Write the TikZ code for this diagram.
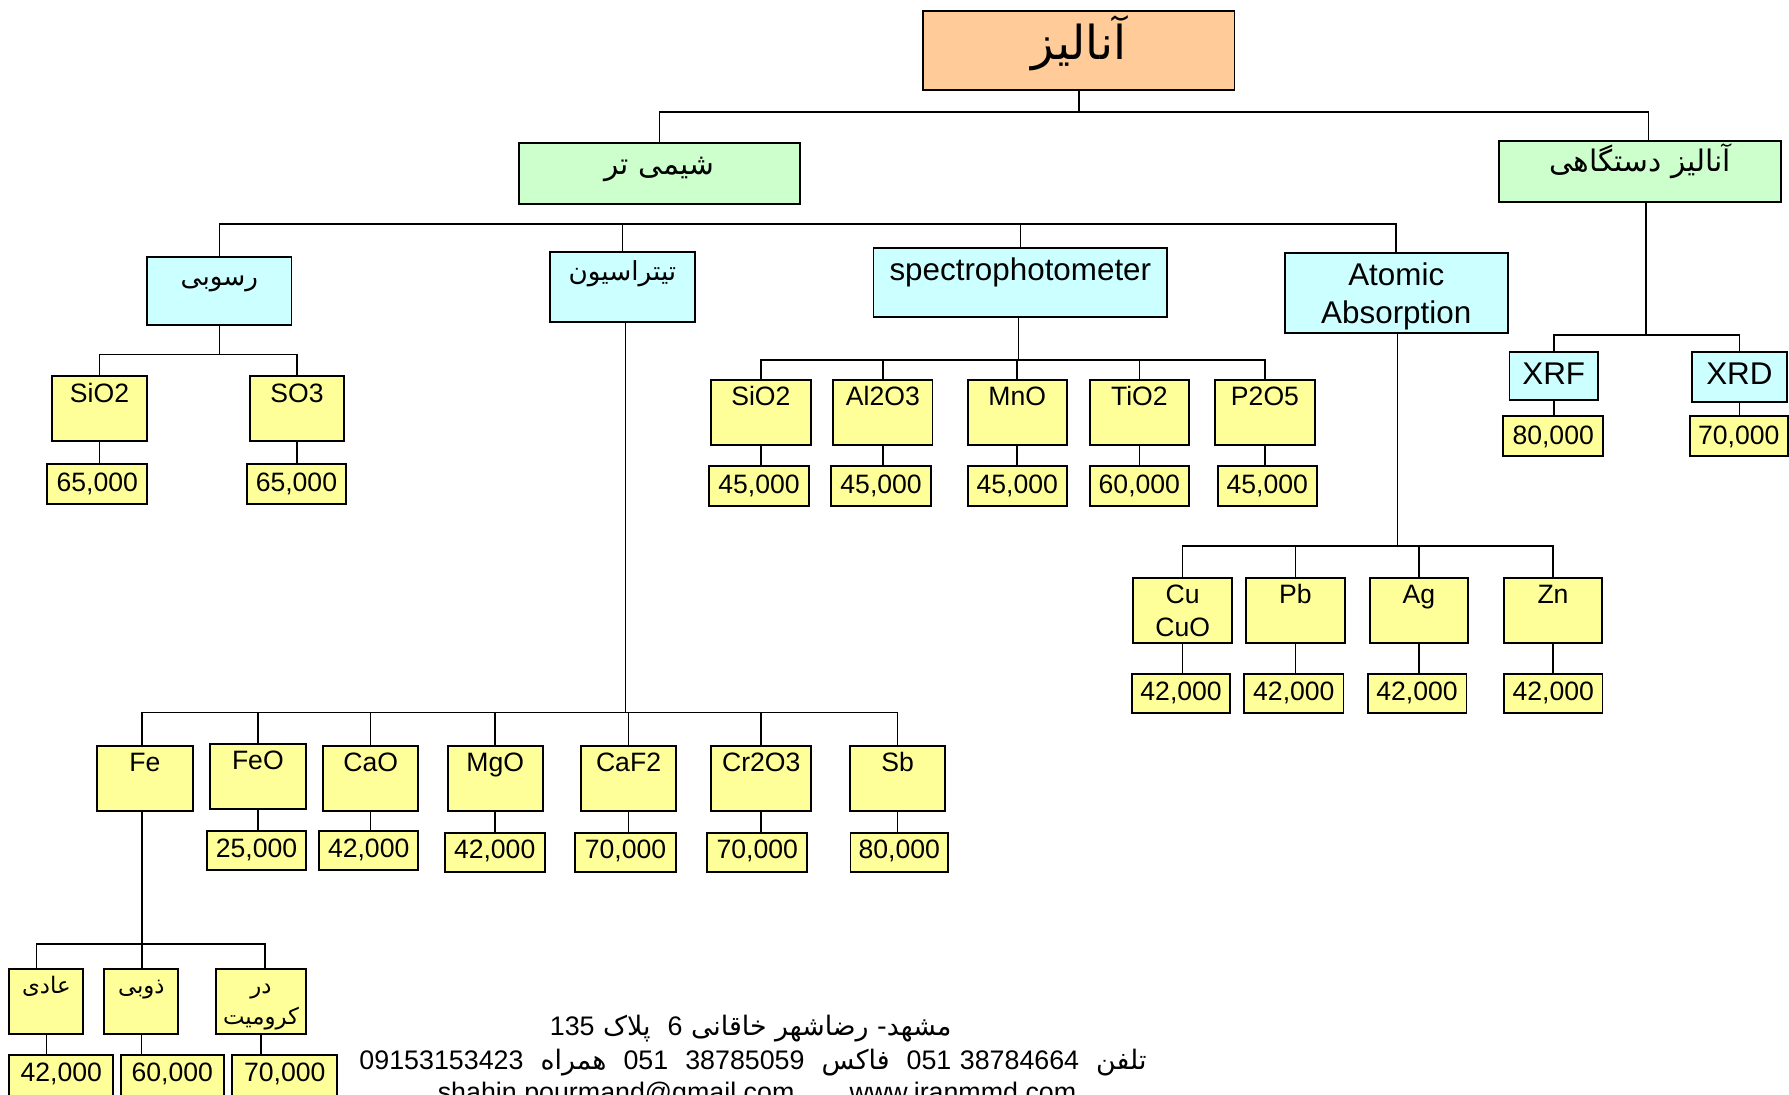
\documentclass[tikz,border=0pt]{standalone}
\usepackage{fontspec}
\setmainfont{Liberation Sans}
\newfontfamily\fa[Script=Arabic]{DejaVu Sans}
\TeXXeTstate=1
\usetikzlibrary{calc}
\definecolor{peachc}{HTML}{FFCC99}
\definecolor{greenc}{HTML}{CCFFCC}
\definecolor{cyanc}{HTML}{CCFFFF}
\definecolor{yellowc}{HTML}{FFFF99}
\newcommand{\bx}[8]{%
  \pgfmathsetmacro\bxw{#5-#3}%
  \pgfmathsetmacro\bxh{#6-#4}%
  \pgfmathsetmacro\bxd{#6-#4-#7}%
  \node[#1, anchor=north west, minimum width=\bxw pt, minimum height=\bxh pt, text height=#7pt, text depth=\bxd pt] (#2) at (#3,#4) {#8};}
\newcommand{\RR}[1]{\beginR #1\endR}
\tikzset{
 bb/.style={draw=black, line width=1.7pt, inner sep=0pt, outer sep=0pt, align=center},
 pbox/.style={bb, fill=peachc, font=\fa\fontsize{41}{44}\selectfont},
 gbox/.style={bb, fill=greenc, font=\fa\fontsize{26}{30}\selectfont},
 cbox/.style={bb, fill=cyanc, font=\fontsize{27.5}{34}\selectfont},
 cfbox/.style={bb, fill=cyanc, font=\fa\fontsize{23}{28}\selectfont},
 ybox/.style={bb, fill=yellowc, font=\fontsize{23.3}{29.2}\selectfont},
 yfbox/.style={bb, fill=yellowc, font=\fa\fontsize{20}{27}\selectfont},
 conn/.style={line width=1.4pt},
 foot/.style={font=\fa\fontsize{23.5}{28}\selectfont, inner sep=0pt, anchor=base},
 footl/.style={font=\fontsize{23.5}{28}\selectfont, inner sep=0pt, anchor=base},
}
\begin{document}
\begin{tikzpicture}[x=1pt,y=-1pt]
\useasboundingbox[fill=white] (0,0) rectangle (1568,959);
% level 0/1
\bx{pbox}{title}{809}{10}{1082}{79}{42}{\RR{آنالیز}}
\bx{gbox}{shimi}{455}{125.6}{701}{178.8}{27}{\RR{شیمی تر}}
\bx{gbox}{dast}{1314}{123.6}{1561}{177}{27}{\RR{آنالیز دستگاهی}}
% level 2
\bx{cfbox}{rosubi}{129}{225}{255.5}{284.8}{25}{\RR{رسوبی}}
\bx{cfbox}{titr}{482}{221}{609}{282}{25}{\RR{تیتراسیون}}
\bx{cbox}{spec}{765.6}{217.6}{1023}{277.5}{28}{spectrophotometer}
\bx{cbox}{aa}{1126}{221.5}{1321.5}{292}{62.3}{Atomic\\Absorption}
\bx{cbox}{xrf}{1323}{308.6}{1400.6}{350.6}{28.8}{XRF}
\bx{cbox}{xrd}{1483}{308.6}{1566}{352}{28.8}{XRD}
\bx{ybox}{vxrf}{1317.6}{365}{1405}{400}{25}{80,000}
\bx{ybox}{vxrd}{1481}{365}{1567}{400}{25}{70,000}
% rosubi children
\bx{ybox}{rs1}{45.4}{329.5}{129}{386.2}{23.5}{SiO2}
\bx{ybox}{rs2}{219}{329.5}{301.6}{386.2}{23.5}{SO3}
\bx{ybox}{rv1}{41.5}{407}{129}{441.7}{24}{65,000}
\bx{ybox}{rv2}{216.4}{407}{303.2}{441.7}{24}{65,000}
% spectro children
\bx{ybox}{sp1}{622.9}{333}{710.8}{390}{22.8}{SiO2}
\bx{ybox}{sp2}{730.4}{333}{817.3}{390}{22.8}{Al2O3}
\bx{ybox}{sp3}{848.2}{333}{935}{390}{22.8}{MnO}
\bx{ybox}{sp4}{955.3}{333}{1041.9}{390}{22.8}{TiO2}
\bx{ybox}{sp5}{1065.1}{333}{1152.3}{390}{22.8}{P2O5}
\bx{ybox}{spv1}{621.4}{408.4}{709}{443.2}{24}{45,000}
\bx{ybox}{spv2}{728.3}{408.4}{816.2}{443.2}{24}{45,000}
\bx{ybox}{spv3}{848.2}{408.4}{935}{443.2}{24}{45,000}
\bx{ybox}{spv4}{955.3}{408.4}{1041.9}{443.2}{24}{60,000}
\bx{ybox}{spv5}{1067.3}{408.4}{1154.2}{443.2}{24}{45,000}
% AA children
\bx{ybox}{aa1}{993.4}{506.3}{1079.7}{563.3}{51.7}{Cu\\CuO}
\bx{ybox}{aa2}{1092.3}{506.3}{1178.6}{563.3}{22.5}{Pb}
\bx{ybox}{aa3}{1200.4}{506.3}{1286.8}{563.3}{22.5}{Ag}
\bx{ybox}{aa4}{1318.3}{506.3}{1404}{563.3}{22.5}{Zn}
\bx{ybox}{aav1}{992}{590.7}{1078.4}{624.6}{23}{42,000}
\bx{ybox}{aav2}{1090.5}{590.7}{1177.5}{624.6}{23}{42,000}
\bx{ybox}{aav3}{1198.7}{590.7}{1285.3}{624.6}{23}{42,000}
\bx{ybox}{aav4}{1318.3}{590.7}{1404.5}{624.6}{23}{42,000}
% titration children
\bx{ybox}{t1}{84.8}{653.8}{169}{710.8}{22.5}{Fe}
\bx{ybox}{t2}{184.2}{651.8}{267.8}{709}{22.5}{FeO}
\bx{ybox}{t3}{283}{653.8}{366.7}{710.8}{22.5}{CaO}
\bx{ybox}{t4}{392.3}{653.8}{475.9}{710.8}{22.5}{MgO}
\bx{ybox}{t5}{509.3}{653.8}{592.5}{710.8}{22.5}{CaF2}
\bx{ybox}{t6}{623.4}{653.8}{711}{710.8}{22.5}{Cr2O3}
\bx{ybox}{t7}{744.9}{653.8}{828.5}{710.8}{22.5}{Sb}
\bx{ybox}{tv2}{181.8}{728.3}{267.8}{762.5}{23}{25,000}
\bx{ybox}{tv3}{279.6}{728.3}{366.7}{762.5}{23}{42,000}
\bx{ybox}{tv4}{389.8}{729.8}{477.3}{764.5}{23}{42,000}
\bx{ybox}{tv5}{504}{729.8}{592.5}{764.5}{23}{70,000}
\bx{ybox}{tv6}{620}{729.8}{707.5}{764.5}{23}{70,000}
\bx{ybox}{tv7}{745.4}{729.8}{831}{764.5}{23}{80,000}
% Fe children
\bx{yfbox}{f1}{8.2}{849.6}{73}{906.5}{21}{\RR{عادی}}
\bx{yfbox}{f2}{91.4}{849.6}{156.3}{906.5}{21}{\RR{ذوبی}}
\bx{yfbox}{f3}{189.3}{849.6}{268.2}{906.5}{48}{\RR{در}\\\RR{کرومیت}}
\bx{ybox}{fv1}{8.2}{924.6}{99.3}{968}{23.4}{42,000}
\bx{ybox}{fv2}{105.8}{924.6}{196.3}{968}{23.4}{60,000}
\bx{ybox}{fv3}{203.6}{924.6}{295.6}{968}{23.4}{70,000}
% connectors level 0-1
\coordinate (b1L) at (578,98);
\coordinate (b1R) at (1445,98);
\draw[conn] (title.south) -- (title.south |- b1L);
\draw[conn] (b1L |- shimi.north) -- (b1L) -- (b1R) -- (b1R |- dast.north);
% level 2 bus
\coordinate (b2) at (0,196.3);
\draw[conn] (rosubi.north) -- (rosubi.north |- b2) -- (aa.north |- b2) -- (aa.north);
\draw[conn] (titr.north) -- (titr.north |- b2);
\draw[conn] (spec.north) -- (spec.north |- b2);
% rosubi
\coordinate (b3) at (0,310.6);
\draw[conn] (rosubi.south) -- (rosubi.south |- b3);
\draw[conn] (rs1.north) -- (rs1.north |- b3) -- (rs2.north |- b3) -- (rs2.north);
\foreach \a/\b in {rs1/rv1,rs2/rv2} \draw[conn] (\a.south) -- (\a.south |- \b.north);
% spectro
\coordinate (b5) at (892.5,315.5);
\draw[conn] (b5 |- spec.south) -- (b5);
\draw[conn] (sp1.north) -- (sp1.north |- b5) -- (sp5.north |- b5) -- (sp5.north);
\foreach \a in {sp2,sp3,sp4} \draw[conn] (\a.north) -- (\a.north |- b5);
\foreach \a/\b in {sp1/spv1,sp2/spv2,sp3/spv3,sp4/spv4,sp5/spv5} \draw[conn] (\a.south) -- (\a.south |- \b.north);
% AA
\coordinate (b6) at (1224.8,478.5);
\draw[conn] (b6 |- aa.south) -- (b6);
\draw[conn] (aa1.north) -- (aa1.north |- b6) -- (aa4.north |- b6) -- (aa4.north);
\foreach \a in {aa2,aa3} \draw[conn] (\a.north) -- (\a.north |- b6);
\foreach \a/\b in {aa1/aav1,aa2/aav2,aa3/aav3,aa4/aav4} \draw[conn] (\a.south) -- (\a.south |- \b.north);
% XRF / XRD
\coordinate (b7) at (1442.6,293.6);
\draw[conn] (b7 |- dast.south) -- (b7);
\draw[conn] (xrf.north) -- (xrf.north |- b7) -- (xrd.north |- b7) -- (xrd.north);
\foreach \a/\b in {xrf/vxrf,xrd/vxrd} \draw[conn] (\a.south) -- (\a.south |- \b.north);
% titration
\coordinate (b8) at (548.2,624.6);
\draw[conn] (b8 |- titr.south) -- (b8);
\coordinate (b8L) at (124.5,624.6);
\draw[conn] (b8L |- t1.north) -- (b8L) -- (t7.north |- b8) -- (t7.north);
\foreach \a in {t2,t3,t4,t5,t6} \draw[conn] (\a.north) -- (\a.north |- b8);
\foreach \a/\b in {t2/tv2,t3/tv3,t4/tv4,t5/tv5,t6/tv6,t7/tv7} \draw[conn] (\a.south) -- (\a.south |- \b.north);
% Fe
\coordinate (b9) at (124.7,827.4);
\coordinate (d1) at (32,827.4);
\coordinate (d3) at (232.3,827.4);
\draw[conn] (b9 |- t1.south) -- (b9);
\draw[conn] (d1 |- f1.north) -- (d1) -- (d3) -- (d3 |- f3.north);
\draw[conn] (b9) -- (b9 |- f2.north);
\foreach \a/\b in {f1/fv1,f2/fv2,f3/fv3} \draw[conn] (\a.south) -- (\a.south |- \b.north);
% footer
\node[foot] (ft1) at (658,908) {\RR{مشهد\hbox{-} رضاشهر خاقانی {\normalfont 6}\ \ پلاک {\normalfont 135}}};
\node[foot] (ft2) at (660,937) {\RR{تلفن\ \ {\normalfont 38784664} {\normalfont 051}\ \ فاکس\ \ {\normalfont 38785059}\ \ {\normalfont 051}\ \ همراه\ \ {\normalfont 09153153423}}};
\node[footl] (ft3) at (540,965) {shahin.pourmand@gmail.com};
\node[footl] (ft4) at (844,965) {www.iranmmd.com};
\end{tikzpicture}
\end{document}
